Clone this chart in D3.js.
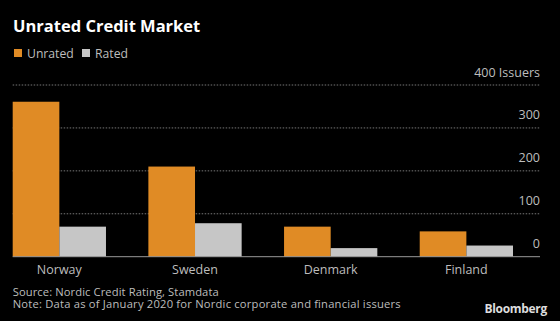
<!DOCTYPE html>
<html>
<head>
<meta charset="utf-8">
<script src="https://cdn.jsdelivr.net/npm/d3@7"></script>
<style>
  body { margin: 0; background: #000; }
  text { font-family: "Open Sans", "DejaVu Sans", sans-serif; }
</style>
</head>
<body>
<div id="chart"></div>
<script>
// Data
const countries = ['Norway', 'Sweden', 'Denmark', 'Finland'];
const unrated = [361, 210, 70, 59];
const rated = [70, 78, 20, 26];
const seriesNames = ['Unrated', 'Rated'];
const yTicks = [0, 100, 200, 300, 400];

const width = 560, height = 321;
const colors = ['#e08b25', '#c6c6c6'];

const svg = d3.select('#chart')
  .append('svg')
  .attr('width', width)
  .attr('height', height);

svg.append('rect')
  .attr('width', width)
  .attr('height', height)
  .attr('fill', '#000');

// Title
svg.append('text')
  .attr('x', 13)
  .attr('y', 32)
  .attr('fill', '#fff')
  .attr('font-size', 16.5)
  .attr('font-weight', 'bold')
  .text('Unrated Credit Market');

// Legend
const legend = svg.append('g').attr('transform', 'translate(14, 49)');
const legendX = [0, 68];
seriesNames.forEach((name, i) => {
  legend.append('rect')
    .attr('x', legendX[i])
    .attr('y', 0)
    .attr('width', 8)
    .attr('height', 8)
    .attr('fill', colors[i]);
  legend.append('text')
    .attr('x', legendX[i] + 13)
    .attr('y', 8.5)
    .attr('fill', '#bdbdbd')
    .attr('font-size', 12.2)
    .text(name);
});

// Scales
const x0 = d3.scaleBand()
  .domain(countries)
  .range([12.7, 513])
  .paddingInner(0.3125)
  .paddingOuter(0);

const x1 = d3.scaleBand()
  .domain(seriesNames)
  .range([0, x0.bandwidth()]);

const y = d3.scaleLinear()
  .domain([0, 400])
  .range([256.7, 85]);

// Gridlines (dotted)
svg.append('g')
  .selectAll('line')
  .data(yTicks.filter(d => d > 0))
  .enter()
  .append('line')
  .attr('x1', 12.7)
  .attr('x2', 540)
  .attr('y1', d => y(d))
  .attr('y2', d => y(d))
  .attr('stroke', '#777')
  .attr('stroke-width', 1)
  .attr('stroke-dasharray', '1.5,1.5');

// Right axis labels
svg.append('g')
  .selectAll('text')
  .data(yTicks)
  .enter()
  .append('text')
  .attr('x', 540)
  .attr('y', d => y(d) - 8.5)
  .attr('text-anchor', 'end')
  .attr('fill', '#bdbdbd')
  .attr('font-size', 12.5)
  .text(d => d === 400 ? '400 Issuers' : d);

// Bars
const groups = svg.append('g')
  .selectAll('g')
  .data(countries)
  .enter()
  .append('g')
  .attr('transform', d => `translate(${x0(d)},0)`);

groups.selectAll('rect')
  .data((d, i) => [
    { key: 'Unrated', value: unrated[i] },
    { key: 'Rated', value: rated[i] }
  ])
  .enter()
  .append('rect')
  .attr('x', d => x1(d.key))
  .attr('y', d => y(d.value))
  .attr('width', x1.bandwidth())
  .attr('height', d => y(0) - y(d.value))
  .attr('fill', (d, i) => colors[i]);

// Baseline
svg.append('line')
  .attr('x1', 12.7)
  .attr('x2', 540)
  .attr('y1', y(0))
  .attr('y2', y(0))
  .attr('stroke', '#999')
  .attr('stroke-width', 1);

// Category labels
svg.append('g')
  .selectAll('text')
  .data(countries)
  .enter()
  .append('text')
  .attr('x', d => x0(d) + x0.bandwidth() / 2)
  .attr('y', 273.5)
  .attr('text-anchor', 'middle')
  .attr('fill', '#bdbdbd')
  .attr('font-size', 12.5)
  .text(d => d);

// Footnotes (widths stretched to match the original font)
const notes = [
  'Source: Nordic Credit Rating, Stamdata',
  'Note: Data as of January 2020 for Nordic corporate and financial issuers'
];
const noteWidths = [206, 388];
svg.append('g')
  .selectAll('text')
  .data(notes)
  .enter()
  .append('text')
  .attr('x', 12.7)
  .attr('y', (d, i) => 296 + i * 12.3)
  .attr('fill', '#bdbdbd')
  .attr('font-size', 11.2)
  .attr('textLength', (d, i) => noteWidths[i])
  .attr('lengthAdjust', 'spacing')
  .text(d => d);

svg.append('text')
  .attr('x', 547)
  .attr('y', 313)
  .attr('text-anchor', 'end')
  .attr('fill', '#ddd')
  .attr('font-size', 12)
  .attr('font-weight', 'bold')
  .attr('letter-spacing', -0.3)
  .text('Bloomberg');
</script>
</body>
</html>
